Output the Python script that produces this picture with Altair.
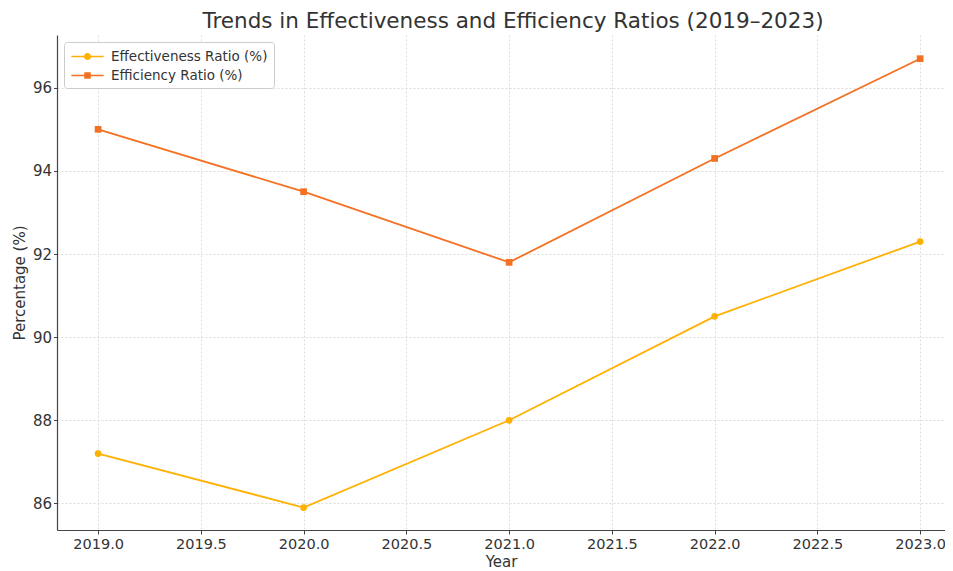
import altair as alt
import pandas as pd

years = [2019, 2020, 2021, 2022, 2023]
effectiveness = [87.2, 85.9, 88.0, 90.5, 92.3]
efficiency = [95.0, 93.5, 91.8, 94.3, 96.7]
series_names = ["Effectiveness Ratio (%)", "Efficiency Ratio (%)"]
series_colors = ["#FFB000", "#F47022"]

rows = []
for y, a, b in zip(years, effectiveness, efficiency):
    rows.append({"Year": y, "Series": series_names[0], "Value": a})
    rows.append({"Year": y, "Series": series_names[1], "Value": b})
df = pd.DataFrame(rows)

FONT = "DejaVu Sans"

x_enc = alt.X(
    "Year:Q",
    scale=alt.Scale(domain=[2018.8, 2023.121], nice=False, zero=False),
    axis=alt.Axis(
        title="Year", format=".1f", values=[2019 + 0.5 * i for i in range(9)],
        grid=True, gridDash=[2, 2], gridColor="#d4d4d4", gridWidth=0.8,
        domainColor="#444444", domainWidth=1.2, tickColor="#444444", tickSize=4,
        labelFont=FONT, labelFontSize=14.5, labelColor="#333333", labelPadding=3,
        titleFont=FONT, titleFontSize=15, titleColor="#333333", titleFontWeight="normal",
        titlePadding=4,
    ),
)
y_enc = alt.Y(
    "Value:Q",
    scale=alt.Scale(domain=[85.36, 97.27], nice=False, zero=False),
    axis=alt.Axis(
        title="Percentage (%)", values=[86, 88, 90, 92, 94, 96],
        grid=True, gridDash=[2, 2], gridColor="#d4d4d4", gridWidth=0.8,
        domainColor="#444444", domainWidth=1.2, tickColor="#444444", tickSize=3.5,
        labelFont=FONT, labelFontSize=15, labelColor="#333333", labelPadding=2,
        titleFont=FONT, titleFontSize=15, titleColor="#333333", titleFontWeight="normal",
        titlePadding=5,
    ),
)

base = alt.Chart(df)

layers = []
for name, col, shp in zip(series_names, series_colors, ["circle", "square"]):
    sub = base.transform_filter(alt.datum.Series == name)
    layers.append(sub.mark_line(strokeWidth=1.8, color=col).encode(x=x_enc, y=y_enc))
    layers.append(sub.mark_point(shape=shp, filled=True, size=45, opacity=1, color=col)
                  .encode(x=x_enc, y=y_enc))

# legend glyphs: line segment with a marker in the middle (scaled by sqrt(size)/2 = 8.5px)
circ_path = ("M-1.9,-0.1H-0.4V0.1H-1.9Z M0.4,-0.1H1.9V0.1H0.4Z "
             "M-0.42,0A0.42,0.42 0 1,1 0.42,0A0.42,0.42 0 1,1 -0.42,0Z")
sq_path = ("M-1.9,-0.1H-0.38V0.1H-1.9Z M0.38,-0.1H1.9V0.1H0.38Z "
           "M-0.38,-0.38H0.38V0.38H-0.38Z")

legend_props = dict(
    title=None, orient="none", legendX=7, legendY=7,
    labelFont=FONT, labelFontSize=13.5, labelColor="#333333",
    symbolSize=289, symbolStrokeWidth=0, symbolOpacity=1, symbolOffset=9,
    rowPadding=4, padding=6, strokeColor="#cccccc", fillColor="#ffffff",
    cornerRadius=3, labelOffset=15, labelLimit=300,
)

legend_layer = base.mark_point(filled=True, opacity=0).encode(
    x=x_enc, y=y_enc,
    color=alt.Color("Series:N",
                    scale=alt.Scale(domain=series_names, range=series_colors),
                    legend=alt.Legend(**legend_props)),
    shape=alt.Shape(
        "Series:N",
        scale=alt.Scale(domain=series_names, range=[circ_path, sq_path]),
        legend=alt.Legend(**legend_props),
    ),
)

chart = alt.layer(*layers, legend_layer).properties(
    width=888,
    height=495,
    title=alt.TitleParams(
        "Trends in Effectiveness and Efficiency Ratios (2019–2023)",
        font=FONT, fontSize=21.5, fontWeight="normal", color="#333333",
        anchor="middle", dx=12, offset=3,
    ),
    autosize=alt.AutoSizeParams(type="none"),
    padding={"left": 49, "top": 27, "right": 0, "bottom": 41},
).configure_view(stroke=None)

chart.save("out.html", embed_options={"renderer": "svg", "actions": False})
